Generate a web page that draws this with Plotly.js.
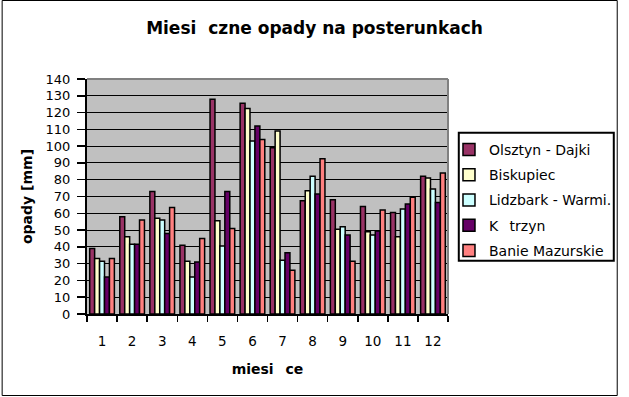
<!DOCTYPE html>
<html><head><meta charset="utf-8">
<script src="https://cdn.plot.ly/plotly-3.0.1.min.js"></script>
<style>html,body{margin:0;padding:0;background:#fff;overflow:hidden}</style>
</head><body><div id="chart" style="width:629px;height:397px"></div>
<script>
// Data
const months = ['1','2','3','4','5','6','7','8','9','10','11','12'];
const olsztyn   = [39, 58, 73, 41, 128, 125.5, 99, 67.5, 68, 64, 60.5, 82];
const biskupiec = [33, 46, 57, 31.5, 55.5, 122.5, 109, 73.5, 50.5, 49, 46, 81];
const lidzbark  = [31.5, 41.5, 56, 22, 40.5, 103, 32, 82, 52, 47, 62.5, 74.5];
const ketrzyn   = [22, 41.5, 48, 31, 73, 112, 36.5, 71.5, 47, 49.5, 65.5, 66.5];
const banie     = [33, 56, 63.5, 45, 51, 104, 26, 92.5, 31.5, 62, 69.5, 84];
const seriesNames = ['Olsztyn - Dajki', 'Biskupiec', 'Lidzbark - Warmi.', 'K\u2002\u00a0trzyn', 'Banie Mazurskie'];
const seriesValues = [olsztyn, biskupiec, lidzbark, ketrzyn, banie];
const colors = ['#993366', '#FFFFCC', '#CCFFFF', '#660066', '#FF8080'];

const traces = seriesValues.map((v, i) => ({
  type: 'bar', x: months, y: v, name: seriesNames[i], legendgroup: 'g' + i,
  marker: {color: colors[i], line: {color: '#000', width: 1.5}},
  hoverinfo: 'x+y+name'
}));

// pixel helpers for layout decoration (plot area: x 87..455, y 79..314)
const PL = 87, PR = 455, PT = 79, PB = 314;
const px = v => (v - PL) / (PR - PL);
const py = v => (PB - v) / (PB - PT);

const layout = {
  width: 629, height: 397,
  margin: {l: PL, r: 629 - PR, t: PT, b: 397 - PB, pad: 0},
  paper_bgcolor: '#fff', plot_bgcolor: '#C0C0C0',
  font: {family: 'DejaVu Sans', color: '#000', size: 13},
  title: {text: 'Miesi\u00a0\u00a0czne opady na posterunkach', font: {size: 17, weight: 700},
          x: 0.5, xref: 'container', xanchor: 'center', y: 1 - 28/397, yref: 'container', yanchor: 'middle'},
  bargap: 0.18, bargroupgap: 0, barmode: 'group',
  showlegend: true,
  legend: {x: px(456), xanchor: 'left', y: py(134), yanchor: 'top', bgcolor: 'rgba(0,0,0,0)',
           borderwidth: 0, font: {size: 14}, traceorder: 'grouped', tracegroupgap: 4},
  xaxis: {type: 'category', range: [-0.5, 11.5], tickson: 'boundaries', ticks: 'outside', ticklen: 6,
          tickwidth: 1.5, tickcolor: '#000', showline: true, linecolor: '#000', linewidth: 2,
          showgrid: false, zeroline: false, tickfont: {size: 13.5}, ticklabelstandoff: 14,
          title: {text: 'miesi\u2002\u00a0ce', font: {size: 14, weight: 700}, standoff: 16}, fixedrange: true},
  yaxis: {range: [0, 140], tick0: 0, dtick: 10, ticks: 'outside', ticklen: 8, tickwidth: 1.5, tickcolor: '#000',
          showline: true, linecolor: '#000', linewidth: 2, showgrid: true, gridcolor: '#000', gridwidth: 1,
          zeroline: false, tickfont: {size: 13}, ticklabelstandoff: 4,
          title: {text: 'opady [mm]', font: {size: 14, weight: 700}, standoff: 10}, fixedrange: true},
  shapes: [
    {type: 'line', xref: 'paper', yref: 'paper', x0: 0, x1: 1, y0: 1, y1: 1, line: {color: '#808080', width: 2}, layer: 'above'},
    {type: 'line', xref: 'paper', yref: 'paper', x0: 1, x1: 1, y0: 0, y1: 1, line: {color: '#808080', width: 2}, layer: 'above'},
    {type: 'rect', xref: 'paper', yref: 'paper', x0: px(466), x1: px(624), y0: py(260.7), y1: py(132.7), line: {color: '#000', width: 2}},
    {type: 'rect', xref: 'paper', yref: 'paper', x0: px(0.5), x1: px(627.5), y0: py(395.5), y1: py(0.5), line: {color: '#000', width: 1}}
  ]
};

Plotly.newPlot('chart', traces, layout, {displayModeBar: false, staticPlot: true});
</script>
</body></html>
